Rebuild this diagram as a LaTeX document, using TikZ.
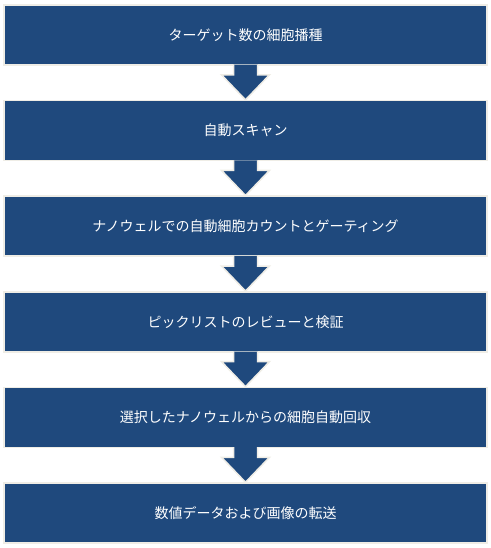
\documentclass[tikz,border=0pt]{standalone}
\usepackage{fontspec}
\setmainfont{Noto Sans CJK JP}
\usetikzlibrary{calc}
\definecolor{stepblue}{HTML}{1F497D}
\definecolor{rimgrey}{HTML}{EFEDE6}
\tikzset{
    stepbox/.style={fill=stepblue, draw=rimgrey, line width=1.5pt, inner sep=0pt,
        minimum width=483pt, minimum height=60pt, text=white,
        font=\fontsize{14pt}{16pt}\selectfont},
    flowarrow/.style={fill=stepblue, draw=rimgrey, line width=1.5pt, line join=miter}
}
\begin{document}
\begin{tikzpicture}[x=1pt, y=-1pt]
    \useasboundingbox (0, 0) rectangle (490, 548);
    \node[stepbox] (seed) at (245.5, 35) {ターゲット数の細胞播種};
    \node[stepbox] (scan) at (245.5, 130.6) {自動スキャン};
    \node[stepbox] (count) at (245.5, 226.2) {ナノウェルでの自動細胞カウントとゲーティング};
    \node[stepbox] (review) at (245.5, 321.8) {ピックリストのレビューと検証};
    \node[stepbox] (pick) at (245.5, 417.4) {選択したナノウェルからの細胞自動回収};
    \node[stepbox] (export) at (245.5, 513) {数値データおよび画像の転送};
    \foreach \a/\b in {seed/scan, scan/count, count/review, review/pick, pick/export}
        \filldraw[flowarrow] ($(\a.south)+(-12, -1)$) -- ($(\b.north)+(-12, -25)$)
            -- ($(\b.north)+(-24, -25)$) -- (\b.north) -- ($(\b.north)+(24, -25)$)
            -- ($(\b.north)+(12, -25)$) -- ($(\a.south)+(12, -1)$);
\end{tikzpicture}
\end{document}
